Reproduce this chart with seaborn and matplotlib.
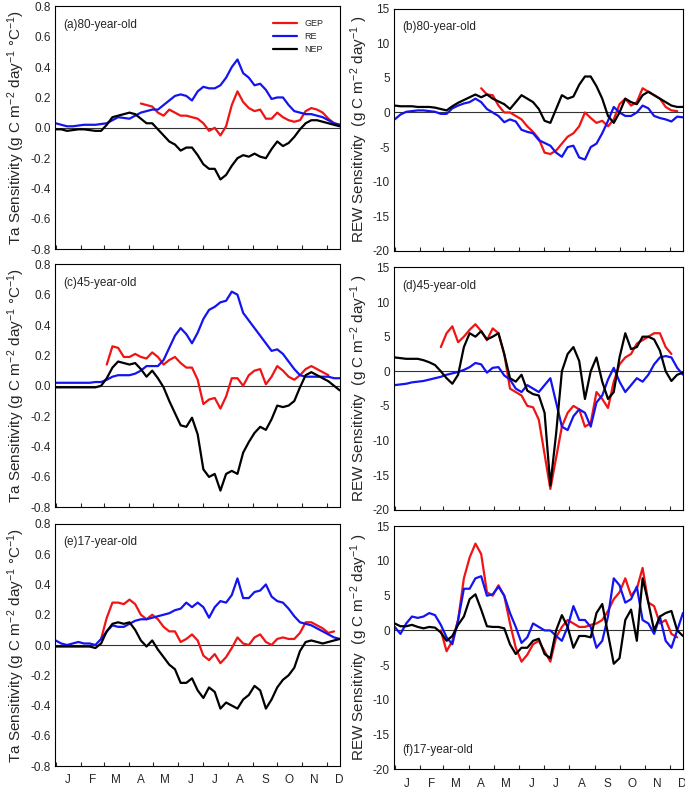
import numpy as np
import pandas as pd
import matplotlib
matplotlib.use('Agg')
import matplotlib.pyplot as plt
import seaborn as sns

nan = np.nan

# day of year, sampled weekly
days = list(range(1, 352, 7))
month_starts = [1, 32, 60, 91, 121, 152, 182, 213, 244, 274, 305, 335]
month_mid = [16, 46, 75, 106, 136, 167, 197, 228, 259, 289, 320, 350]
month_labels = ['J', 'F', 'M', 'A', 'M', 'J', 'J', 'A', 'S', 'O', 'N', 'D']
fluxes = ['GEP', 'RE', 'NEP']
ta_ticks = [-0.8, -0.6, -0.4, -0.2, 0.0, 0.2, 0.4, 0.6, 0.8]
rew_ticks = [-20, -15, -10, -5, 0, 5, 10, 15]

# (a) Ta sensitivity, 80-year-old
gep_a = [nan] * 15 + [0.16, 0.15, 0.14, 0.10, 0.08, 0.12, 0.10, 0.08, 0.08, 0.07,
                      0.06, 0.03, -0.02, 0.0, -0.05, 0.01, 0.15, 0.24, 0.17, 0.13,
                      0.11, 0.12, 0.06, 0.06, 0.10, 0.07, 0.05, 0.04, 0.05, 0.11,
                      0.13, 0.12, 0.10, 0.06, 0.03, 0.02]
re_a = [0.03, 0.02, 0.01, 0.01, 0.015, 0.02, 0.02, 0.02, 0.025, 0.03,
        0.05, 0.07, 0.065, 0.06, 0.08, 0.10, 0.11, 0.12, 0.12, 0.15,
        0.18, 0.21, 0.22, 0.21, 0.18, 0.24, 0.27, 0.26, 0.26, 0.28,
        0.33, 0.40, 0.45, 0.36, 0.33, 0.28, 0.29, 0.25, 0.19, 0.20,
        0.20, 0.15, 0.11, 0.10, 0.09, 0.09, 0.08, 0.07, 0.05, 0.03,
        0.02]
nep_a = [-0.01, -0.01, -0.02, -0.015, -0.01, -0.01, -0.015, -0.02, -0.02, 0.02,
         0.07, 0.08, 0.09, 0.10, 0.09, 0.06, 0.03, 0.03, -0.01, -0.05,
         -0.09, -0.11, -0.15, -0.13, -0.13, -0.18, -0.24, -0.27, -0.27, -0.34,
         -0.31, -0.25, -0.20, -0.18, -0.19, -0.17, -0.19, -0.20, -0.14, -0.09,
         -0.12, -0.10, -0.06, -0.01, 0.03, 0.05, 0.05, 0.04, 0.03, 0.02,
         0.01]

# (b) REW sensitivity, 80-year-old
gep_b = [nan] * 15 + [3.5, 2.6, 2.5, 1.0, 0.0, 0.0, -0.5, -1.0, -2.0, -2.8,
                      -3.8, -5.8, -6.0, -5.5, -4.5, -3.5, -3.0, -2.0, 0.0, -0.8,
                      -1.5, -1.2, -2.0, -1.0, 1.2, 2.0, 1.0, 1.5, 3.5, 3.0,
                      2.5, 2.0, 0.8, 0.3, 0.2, nan]
re_b = [-1.0, -0.3, 0.1, 0.2, 0.3, 0.3, 0.2, 0.1, -0.2, -0.2,
        0.6, 1.0, 1.3, 1.5, 2.0, 1.5, 0.5, 0.0, -0.5, -1.4,
        -1.0, -1.3, -2.5, -2.8, -3.0, -4.0, -4.4, -4.8, -5.8, -6.4,
        -5.0, -4.8, -6.5, -6.8, -5.0, -4.5, -3.0, -1.2, 0.8, 0.0,
        -0.5, -0.5, 0.0, 1.0, 0.6, -0.5, -0.8, -1.0, -1.3, -0.6,
        -0.7]
nep_b = [1.0, 0.9, 0.9, 0.9, 0.8, 0.8, 0.8, 0.7, 0.5, 0.3,
         0.9, 1.4, 1.8, 2.2, 2.6, 2.2, 2.6, 2.0, 1.6, 1.2,
         0.5, 1.5, 2.5, 2.0, 1.5, 0.5, -1.2, -1.5, 0.5, 2.5,
         2.0, 2.3, 4.0, 5.2, 5.2, 3.8, 2.0, -0.5, -1.5, 0.0,
         2.0, 1.5, 1.2, 2.5, 3.0, 2.5, 2.0, 1.5, 1.0, 0.8,
         0.8]

# (c) Ta sensitivity, 45-year-old
gep_c = [nan] * 9 + [0.14, 0.26, 0.25, 0.19, 0.19, 0.21, 0.19, 0.18, 0.22, 0.19,
                     0.14, 0.17, 0.19, 0.15, 0.12, 0.12, 0.04, -0.12, -0.09, -0.08,
                     -0.15, -0.07, 0.05, 0.05, 0.0, 0.07, 0.10, 0.11, 0.01, 0.06,
                     0.13, 0.10, 0.06, 0.04, 0.07, 0.11, 0.13, 0.11, 0.09, 0.07,
                     nan, nan]
re_c = [0.02, 0.02, 0.02, 0.02, 0.02, 0.02, 0.02, 0.025, 0.025, 0.04,
        0.06, 0.07, 0.07, 0.07, 0.08, 0.10, 0.13, 0.13, 0.13, 0.17,
        0.25, 0.33, 0.38, 0.34, 0.28, 0.35, 0.44, 0.50, 0.52, 0.55,
        0.56, 0.62, 0.60, 0.48, 0.43, 0.38, 0.33, 0.28, 0.23, 0.24,
        0.21, 0.16, 0.11, 0.07, 0.06, 0.06, 0.06, 0.06, 0.06, 0.05,
        0.05]
nep_c = [-0.01, -0.01, -0.01, -0.01, -0.01, -0.01, -0.01, -0.01, 0.0, 0.05,
         0.12, 0.16, 0.15, 0.14, 0.15, 0.11, 0.06, 0.10, 0.05, -0.01,
         -0.10, -0.18, -0.26, -0.27, -0.21, -0.32, -0.55, -0.60, -0.58, -0.69,
         -0.58, -0.56, -0.58, -0.44, -0.37, -0.31, -0.27, -0.29, -0.22, -0.13,
         -0.14, -0.13, -0.10, -0.01, 0.07, 0.09, 0.07, 0.05, 0.03, 0.0,
         -0.03]

# (d) REW sensitivity, 45-year-old
gep_d = [nan] * 8 + [3.5,
                     5.5, 6.5, 4.2, 5.0, 6.0, 6.8, 5.8, 4.5, 6.2, 5.5,
                     2.5, -2.5, -3.0, -3.5, -5.0, -5.2, -7.0, -12.0, -17.0, -12.5,
                     -8.0, -6.0, -5.0, -5.5, -8.0, -7.5, -3.0, -4.0, -5.3, -1.5,
                     1.0, 2.0, 2.5, 4.0, 4.5, 5.0, 5.5, 5.5, 3.5, 2.5,
                     nan, nan]
re_d = [-2.0, -1.9, -1.8, -1.6, -1.5, -1.4, -1.2, -1.0, -0.8, -0.5,
        -0.3, -0.1, 0.2, 0.6, 1.2, 1.0, -0.2, 0.5, 0.6, -0.6,
        -1.2, -2.5, -3.0, -2.0, -2.5, -3.0, -2.0, -1.0, -4.5, -8.0,
        -8.5, -6.5, -5.5, -6.0, -8.0, -4.5, -3.5, -1.2, 0.5, -1.5,
        -3.0, -2.0, -1.0, -1.5, -0.5, 1.0, 2.0, 2.2, 2.0, 0.5,
        -0.5]
nep_d = [2.0, 1.9, 1.8, 1.8, 1.8, 1.6, 1.3, 0.9, 0.0, -1.0,
         -1.8, -0.5, 3.5, 5.5, 5.0, 5.8, 4.6, 5.0, 5.5, 2.5,
         -1.0, -1.5, -0.5, -2.8, -3.3, -3.5, -6.0, -16.5, -9.0, 0.0,
         2.5, 3.5, 1.5, -4.0, 0.0, 2.0, -1.5, -4.0, -3.0, 2.0,
         5.5, 3.2, 3.5, 5.0, 5.0, 4.6, 3.0, 0.0, -1.4, -0.5,
         -0.2]

# (e) Ta sensitivity, 17-year-old
gep_e = [nan] * 8 + [0.04,
                     0.18, 0.28, 0.28, 0.27, 0.30, 0.27, 0.20, 0.17, 0.20, 0.17,
                     0.12, 0.09, 0.09, 0.02, 0.04, 0.07, 0.03, -0.07, -0.10, -0.06,
                     -0.12, -0.08, -0.02, 0.05, 0.01, 0.0, 0.05, 0.07, 0.02, 0.0,
                     0.04, 0.05, 0.04, 0.04, 0.08, 0.15, 0.15, 0.13, 0.11, 0.08,
                     0.09, nan]
re_e = [0.03, 0.01, 0.0, 0.01, 0.02, 0.01, 0.01, 0.0, 0.04, 0.09,
        0.13, 0.12, 0.12, 0.14, 0.16, 0.17, 0.17, 0.18, 0.19, 0.20,
        0.21, 0.23, 0.24, 0.28, 0.25, 0.28, 0.25, 0.18, 0.25, 0.29,
        0.28, 0.33, 0.44, 0.31, 0.31, 0.35, 0.36, 0.40, 0.32, 0.29,
        0.28, 0.24, 0.19, 0.15, 0.14, 0.13, 0.11, 0.09, 0.07, 0.05,
        0.04]
nep_e = [-0.01, -0.01, -0.01, -0.01, -0.01, -0.01, -0.01, -0.02, 0.01, 0.09,
         0.14, 0.15, 0.14, 0.15, 0.10, 0.03, -0.01, 0.03, -0.03, -0.08,
         -0.13, -0.16, -0.25, -0.25, -0.22, -0.30, -0.35, -0.28, -0.31, -0.42,
         -0.38, -0.40, -0.42, -0.36, -0.33, -0.27, -0.30, -0.42, -0.36, -0.28,
         -0.23, -0.20, -0.15, -0.04, 0.02, 0.03, 0.02, 0.01, 0.02, 0.03,
         0.04]

# (f) REW sensitivity, 17-year-old
gep_f = [nan] * 8 + [0.0,
                     -3.0, -1.5, 1.5, 7.5, 10.5, 12.5, 11.0, 5.5, 5.0, 6.5,
                     5.0, 1.0, -2.5, -4.5, -3.5, -2.0, -1.5, -3.0, -4.5, -1.0,
                     0.5, 1.5, 1.0, 0.5, 0.5, 0.8, 1.0, 1.5, 2.8, 4.5,
                     5.5, 7.5, 5.0, 6.0, 9.0, 4.0, 3.5, 1.0, 1.5, -0.5,
                     -1.0, nan]
re_f = [0.5, -0.5, 1.0, 2.0, 1.8, 2.0, 2.5, 2.2, 0.8, -1.0,
        -2.0, 1.5, 6.0, 6.0, 7.5, 7.8, 5.0, 5.2, 6.3, 5.0,
        2.5, 0.5, -1.8, -1.0, 1.0, 0.5, 0.0, 0.0, -0.8, -1.5,
        0.5, 3.5, 1.5, 1.5, 0.5, -2.5, -1.5, 2.0, 7.5, 6.5,
        4.0, 4.5, 6.3, 1.5, 1.0, -0.5, 2.0, -1.5, -2.5, 0.0,
        2.5]
nep_f = [1.0, 0.6, 0.6, 0.8, 0.5, 0.3, 0.5, 0.4, -0.3, -1.5,
         -0.8, 0.8, 2.0, 4.5, 5.2, 3.0, 0.6, 0.5, 0.5, 0.3,
         -2.0, -3.4, -2.5, -2.5, -1.5, -1.2, -3.4, -4.0, 0.0, 2.2,
         0.5, -2.5, -0.8, -0.8, -1.0, 2.5, 3.8, -0.5, -4.8, -4.0,
         1.5, 3.0, -1.5, 7.5, 4.0, 0.0, 2.0, 2.5, 2.8, 0.0,
         -0.8]

sns.set_style('ticks')
plt.rcParams['font.family'] = ['Liberation Sans', 'DejaVu Sans']
plt.rcParams['mathtext.fontset'] = 'custom'
plt.rcParams['mathtext.rm'] = 'Liberation Sans'
plt.rcParams['mathtext.it'] = 'Liberation Sans:italic'
plt.rcParams['axes.edgecolor'] = 'black'
plt.rcParams['axes.linewidth'] = 0.8

palette = {'GEP': '#f01414', 'RE': '#1414f0', 'NEP': 'black'}

ta_label = 'Ta Sensitivity (g C m$^{-2}$ day$^{-1}$ °C$^{-1}$)'
rew_label = 'REW Sensitivity  (g C m$^{-2}$ day$^{-1}$ )'

fig = plt.figure(figsize=(6.85, 7.89), dpi=100)

left_x, left_w = 0.080, 0.416
right_x, right_w = 0.575, 0.422
panels = [
    ('(a)80-year-old', [gep_a, re_a, nep_a], [left_x, 0.684, left_w, 0.308], 'ta', False),
    ('(b)80-year-old', [gep_b, re_b, nep_b], [right_x, 0.682, right_w, 0.307], 'rew', False),
    ('(c)45-year-old', [gep_c, re_c, nep_c], [left_x, 0.357, left_w, 0.308], 'ta', False),
    ('(d)45-year-old', [gep_d, re_d, nep_d], [right_x, 0.354, right_w, 0.307], 'rew', False),
    ('(e)17-year-old', [gep_e, re_e, nep_e], [left_x, 0.029, left_w, 0.307], 'ta', True),
    ('(f)17-year-old', [gep_f, re_f, nep_f], [right_x, 0.025, right_w, 0.308], 'rew', True),
]

for i, (title, series, rect, kind, bottom) in enumerate(panels):
    ax = fig.add_axes(rect)
    df = pd.DataFrame({'day': days * 3,
                       'value': series[0] + series[1] + series[2],
                       'flux': sum([[f] * len(days) for f in fluxes], [])})
    sns.lineplot(data=df, x='day', y='value', hue='flux', hue_order=fluxes,
                 palette=palette, linewidth=1.6, estimator=None, sort=True,
                 legend=(i == 0), ax=ax)
    ax.axhline(0, color='#333333', linewidth=0.8, zorder=0)
    ax.set_xlim(0, 351)
    ax.set_xticks(month_starts)
    ax.set_xticklabels([])
    ax.set_xticks(month_mid, minor=True)
    if bottom:
        ax.set_xticklabels(month_labels, minor=True, fontsize=8.5)
    ax.tick_params(axis='x', which='major', direction='in', length=3, width=0.8)
    ax.tick_params(axis='x', which='minor', length=0, pad=6)
    ax.tick_params(axis='y', direction='in', length=0, labelsize=8.5, pad=3)
    ax.set_xlabel('')
    if kind == 'ta':
        ax.set_ylim(-0.8, 0.8)
        ax.set_yticks(ta_ticks)
        ax.set_yticklabels([f'{t:.1f}' for t in ta_ticks])
        ax.set_ylabel(ta_label, fontsize=11, labelpad=2)
    else:
        ax.set_ylim(-20, 15)
        ax.set_yticks(rew_ticks)
        ax.set_yticklabels([str(t) for t in rew_ticks])
        ax.set_ylabel(rew_label, fontsize=11, labelpad=2)
    if title.startswith('(f)'):
        ax.text(0.03, 0.08, title, transform=ax.transAxes, fontsize=8.5, va='center')
    else:
        ax.text(0.03, 0.925, title, transform=ax.transAxes, fontsize=8.5, va='center')
    if i == 0:
        sns.move_legend(ax, 'upper right', frameon=False, title=None, fontsize=6.5,
                        handlelength=2.6, labelspacing=0.45, bbox_to_anchor=(0.97, 0.98))

fig.savefig('out.png', dpi=100)
